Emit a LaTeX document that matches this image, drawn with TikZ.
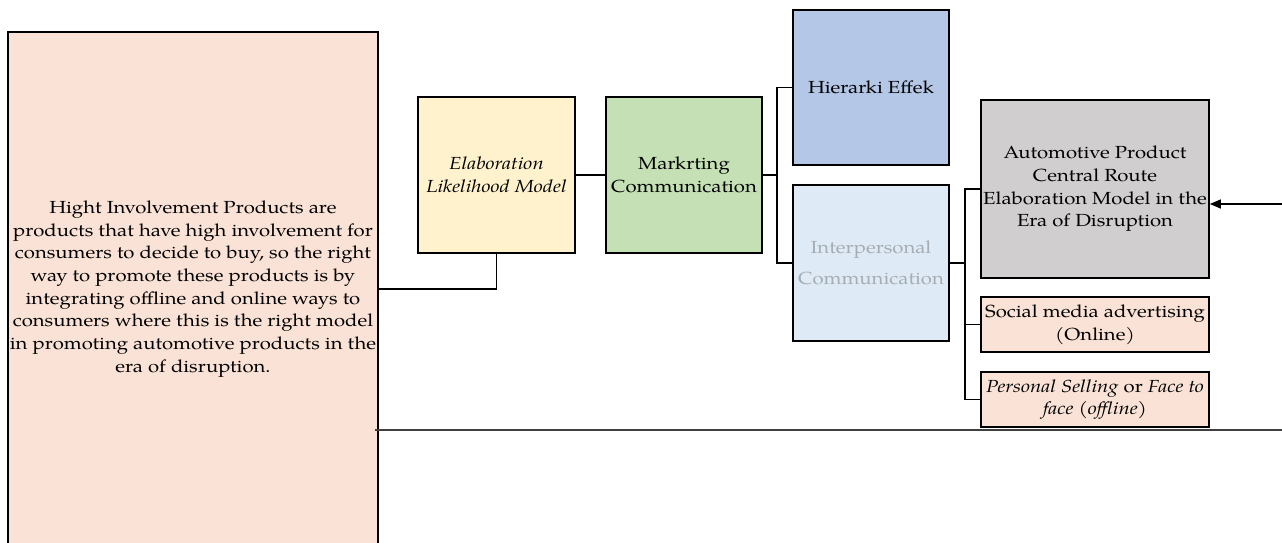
\documentclass[tikz,border=0pt]{standalone}
\usepackage{fontspec}
\setmainfont{texgyrepagella}[Extension=.otf, UprightFont=*-regular, ItalicFont=*-italic, BoldFont=*-bold, BoldItalicFont=*-bolditalic, FakeStretch=1.16]
\usepackage{tikz}
\usetikzlibrary{arrows.meta, positioning}
\definecolor{peach}{RGB}{250,227,214}
\definecolor{cream}{RGB}{255,242,204}
\definecolor{sage}{RGB}{197,224,180}
\definecolor{steel}{RGB}{180,199,231}
\definecolor{ice}{RGB}{222,235,247}
\definecolor{ash}{RGB}{208,206,206}
\definecolor{fadetext}{RGB}{166,172,178}

\begin{document}
\begin{tikzpicture}[x=1pt, y=-1pt,
  box/.style = {draw, line width=1.6pt, align=center, inner sep=2pt,
                font=\fontsize{17.5}{22.7}\selectfont},
  link/.style = {line width=1.6pt}]
\useasboundingbox (0,0) rectangle (1282,543);
% boxes
\node[box, fill=peach, minimum width=370pt, minimum height=514pt] (hip) at (193,289)
  {Hight Involvement Products are\\ products that have high involvement for\\ consumers to decide to buy, so the right\\ way to promote these products is by\\ integrating offline and online ways to\\ consumers where this is the right model\\ in promoting automotive products in the\\ era of disruption.};
\node[box, fill=cream, minimum width=157pt, minimum height=156pt] (elm) at (496.5,175)
  {\itshape Elaboration\\ \itshape Likelihood Model};
\node[box, fill=sage, minimum width=156pt, minimum height=156pt] (mc) at (684,175)
  {Markrting\\ Communication};
\node[box, fill=steel, minimum width=156pt, minimum height=155pt] (he) at (871,87.5)
  {Hierarki Effek};
\node[box, fill=ice, text=fadetext, minimum width=156pt, minimum height=156pt,
  font=\fontsize{17.5}{31}\selectfont] (ic) at (871,263)
  {Interpersonal\\ Communication};
\node[box, fill=ash, minimum width=228pt, minimum height=178pt] (auto) at (1095,189)
  {Automotive Product\\ Central Route\\ Elaboration Model in the\\ Era of Disruption};
\node[box, fill=peach, minimum width=228pt, minimum height=55pt] (sm) at (1095,324.5)
  {Social media advertising\\ (Online)};
\node[box, fill=peach, minimum width=228pt, minimum height=55pt] (ps) at (1095,399.5)
  {\itshape Personal Selling \upshape or \itshape Face to\\ \itshape face (offline)};
% helper points
\coordinate (fork1) at (777,175);
\coordinate (fork2) at (965,263);
\coordinate (src) at (1282,204);
\coordinate (rulel) at (375,430);
\coordinate (ruler) at (1282,430);
% connectors
\draw[link] (hip.east) -| (elm.south);
\draw[link] (elm) -- (mc);
\draw[link] (mc.east) -- (fork1);
\draw[link] (he.west) -| (fork1) |- (ic.west);
\draw[link] (ic.east) -- (fork2);
\draw[link] (auto.west) -| (fork2) |- (sm.west);
\draw[link] (fork2) |- (ps.west);
\draw[line width=1.2pt, -{Triangle[length=11pt,width=9pt]}] (src) -- (auto.east |- src);
\draw[line width=1.4pt, black!75] (rulel) -- (ruler);
\end{tikzpicture}
\end{document}
